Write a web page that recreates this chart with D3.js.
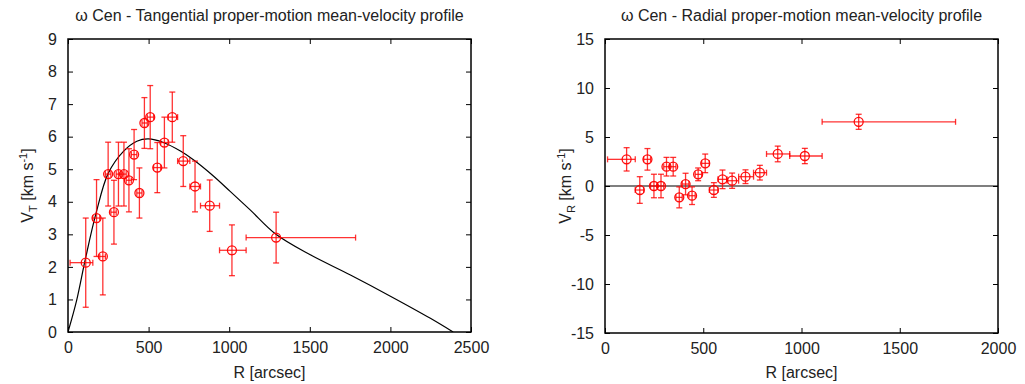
<!DOCTYPE html>
<html><head><meta charset="utf-8">
<script src="https://cdn.jsdelivr.net/npm/d3@7"></script>
<style>
body{margin:0;background:#fff;}
svg{display:block;font-family:"Liberation Sans",Arial,sans-serif;}
</style></head><body>
<svg id="c" width="1025" height="384"></svg>
<script>
// ---- data ----
const radius = [110,177,216,249,285,313,347,378,410,443,474,510,554,598,647,715,788,879,1017,1291];
const binLo  = [13,154,197,232,266,299,329,361,393,427,459,492,531,575,621,680,756,822,940,1105];
const binHi  = [154,197,232,266,299,329,361,393,427,459,492,531,575,621,680,756,822,940,1105,1784];
const vTan   = [2.13,3.5,2.32,4.85,3.68,4.85,4.85,4.66,5.45,4.27,6.42,6.6,5.05,5.82,6.6,5.25,4.47,3.88,2.51,2.9];
const vTanErr= [1.37,1.18,1.18,0.98,0.98,0.98,0.98,0.97,0.77,0.77,0.78,0.97,0.77,0.78,0.77,0.78,0.78,0.79,0.78,0.78];
const vRad   = [2.72,-0.41,2.72,0,0,1.97,1.97,-1.16,0.2,-0.99,1.19,2.31,-0.41,0.68,0.54,0.95,1.36,3.27,3.06,6.55];
const vRadErr= [1.19,1.36,1.1,1.2,1.2,0.95,0.95,1.07,1.1,0.9,0.65,0.95,0.75,0.95,0.78,0.7,0.75,0.8,0.78,0.77];
const modelR = [0,54,106,174,250,344,427,499,592,700,778,900,1006,1130,1290,1503,1752,2000,2248,2389];
const modelV = [0,0.98,2.2,3.65,4.88,5.55,5.86,5.93,5.82,5.55,5.29,4.8,4.32,3.75,3.0,2.37,1.75,1.1,0.42,0];
const tanXTicks = [0,500,1000,1500,2000,2500];
const tanYTicks = [0,1,2,3,4,5,6,7,8,9];
const radXTicks = [0,500,1000,1500,2000];
const radYTicks = [-15,-10,-5,0,5,10,15];
const titles = ["ω Cen - Tangential proper-motion mean-velocity profile","ω Cen - Radial proper-motion mean-velocity profile"];

const svg = d3.select("#c");
const RED = "#ff0000";

function panel(o){
  const x = d3.scaleLinear().domain(o.xd).range([o.x0,o.x1]);
  const y = d3.scaleLinear().domain(o.yd).range([o.y1,o.y0]);
  const g = svg.append("g");
  const fmt = d => String(d);
  const ts = 5;
  const styleAx = a => { a.select(".domain").remove(); a.selectAll("line").attr("stroke","#000"); a.selectAll("text").attr("font-size","16px").attr("fill","#222").attr("font-family","Liberation Sans, Arial, sans-serif"); };
  g.append("g").attr("transform",`translate(0,${o.y1})`).call(d3.axisBottom(x).tickValues(o.xt).tickSizeInner(-ts).tickSizeOuter(0).tickPadding(10).tickFormat(fmt)).call(styleAx);
  g.append("g").attr("transform",`translate(0,${o.y0})`).call(d3.axisTop(x).tickValues(o.xt).tickSizeInner(-ts).tickSizeOuter(0).tickFormat("")).call(styleAx);
  g.append("g").attr("transform",`translate(${o.x0},0)`).call(d3.axisLeft(y).tickValues(o.yt).tickSizeInner(-ts).tickSizeOuter(0).tickPadding(11).tickFormat(fmt)).call(styleAx);
  g.append("g").attr("transform",`translate(${o.x1},0)`).call(d3.axisRight(y).tickValues(o.yt).tickSizeInner(-ts).tickSizeOuter(0).tickFormat("")).call(styleAx);
  // frame
  g.append("rect").attr("x",o.x0).attr("y",o.y0).attr("width",o.x1-o.x0).attr("height",o.y1-o.y0)
    .attr("fill","none").attr("stroke","#000").attr("stroke-width",1.5);
  // title
  g.append("text").attr("x",(o.x0+o.x1)/2).attr("y",21).attr("text-anchor","middle").attr("font-size","16px").attr("fill","#222").text(o.title);
  // x label
  g.append("text").attr("x",(o.x0+o.x1)/2).attr("y",378).attr("text-anchor","middle").attr("font-size","16px").attr("fill","#222").text("R [arcsec]");
  // y label
  const yl = g.append("text").attr("transform",`translate(${o.ylx},${(o.y0+o.y1)/2}) rotate(-90)`).attr("text-anchor","middle").attr("font-size","16px").attr("fill","#222");
  yl.append("tspan").text("V");
  yl.append("tspan").attr("font-size","11px").attr("dy",4).text(o.sub);
  yl.append("tspan").attr("dy",-4).text(" [km s");
  yl.append("tspan").attr("font-size","11px").attr("dy",-6).text("-1");
  yl.append("tspan").attr("dy",6).text("]");
  const clipId = "clip"+o.id;
  svg.append("clipPath").attr("id",clipId).append("rect").attr("x",o.x0).attr("y",o.y0).attr("width",o.x1-o.x0).attr("height",o.y1-o.y0);
  const pg = g.append("g").attr("clip-path",`url(#${clipId})`);
  if(o.zero){
    pg.append("line").attr("x1",o.x0).attr("x2",o.x1).attr("y1",y(0)).attr("y2",y(0)).attr("stroke","#000").attr("stroke-width",1.2);
  }
  if(o.model){
    const line = d3.line().x((d,i)=>x(modelR[i])).y((d,i)=>y(modelV[i])).curve(d3.curveCatmullRom.alpha(0.5));
    pg.append("path").attr("d",line(modelR)).attr("fill","none").attr("stroke","#000").attr("stroke-width",1.2);
  }
  const pts = pg.append("g").attr("stroke",RED).attr("fill","none").attr("stroke-width",1.3).attr("stroke-opacity",0.8);
  radius.forEach((r,i)=>{
    const cx = x(r), cy = y(o.v[i]);
    const yt = y(o.v[i]+o.e[i]), yb = y(o.v[i]-o.e[i]);
    const xl = x(binLo[i]), xr = x(binHi[i]);
    pts.append("line").attr("x1",cx).attr("x2",cx).attr("y1",yt).attr("y2",yb);
    pts.append("line").attr("x1",cx-3).attr("x2",cx+3).attr("y1",yt).attr("y2",yt);
    pts.append("line").attr("x1",cx-3).attr("x2",cx+3).attr("y1",yb).attr("y2",yb);
    pts.append("line").attr("x1",xl).attr("x2",xr).attr("y1",cy).attr("y2",cy);
    pts.append("line").attr("x1",xl).attr("x2",xl).attr("y1",cy-3).attr("y2",cy+3);
    pts.append("line").attr("x1",xr).attr("x2",xr).attr("y1",cy-3).attr("y2",cy+3);
    pts.append("circle").attr("cx",cx).attr("cy",cy).attr("r",4.5).attr("stroke-opacity",0.95);
  });
}

panel({id:1,x0:68,x1:471,y0:39,y1:332,xd:[0,2500],yd:[0,9],xt:tanXTicks,yt:tanYTicks,title:titles[0],sub:"T",ylx:33,v:vTan,e:vTanErr,model:true,zero:false});
panel({id:2,x0:605,x1:998,y0:39,y1:333,xd:[0,2000],yd:[-15,15],xt:radXTicks,yt:radYTicks,title:titles[1],sub:"R",ylx:571,v:vRad,e:vRadErr,model:false,zero:true});
</script>
</body></html>
